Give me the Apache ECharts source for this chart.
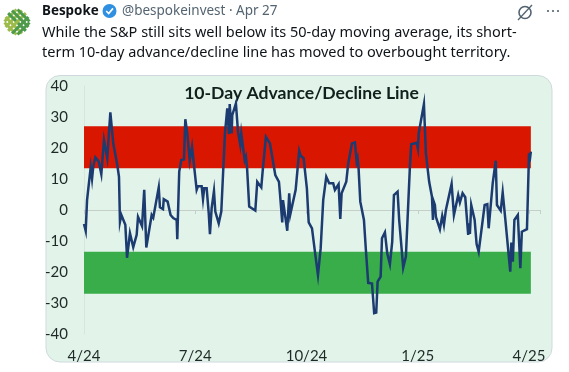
<!DOCTYPE html>
<html><head><meta charset="utf-8">
<style>html,body{margin:0;padding:0;background:#fff}#c{width:569px;height:372px}</style>
<script src="https://cdn.jsdelivr.net/npm/echarts@6/dist/echarts.min.js"></script>
</head><body><div id="c"></div>
<script>
const chartTitle = '10-Day Advance/Decline Line';
const authorName = 'Bespoke';
const authorHandle = '@bespokeinvest · Apr 27';
const tweetLines = ['While the S&P still sits well below its 50-day moving average, its short-','term 10-day advance/decline line has moved to overbought territory.'];
const tickLabels = ['4/24','7/24','10/24','1/25','4/25'];
const overboughtBand = [13.5, 27];
const oversoldBand = [-27, -13.5];
const bandEndDay = 366.5;
const days = [0,1.4,2.5,5.5,6.6,7.6,9.3,12.1,14.2,16.4,19.1,21.6,24,27.3,28.7,29.5,30.6,33.9,35.3,36.9,37.7,40.4,43.2,44.3,47.6,49.4,51.1,55.5,56.8,61.3,62.3,64.8,65.4,68.6,71,73.2,76,76.5,78.1,79.8,82,83.1,84.7,86.7,88.6,90.2,92.4,93.5,96.5,97.6,98.6,100.6,102.3,103.3,104.7,106.6,107.7,110.5,112.6,115.6,117.5,118.9,119.5,121.1,121.6,124.6,126.3,128.2,129,131.8,132.8,133.7,135.5,140.5,142.1,145.4,146.5,147.6,149.2,152.5,156.9,159.9,160.7,161.5,162.6,163.2,166.7,168.3,169.2,173.6,176.5,177.7,180.1,182.8,183.2,184.3,187,189.4,191.9,194.1,196.2,197.4,198.7,201.1,204.4,205.8,208.8,210.2,211.3,215.1,216.7,219.8,222.2,223.6,224.4,225.2,226.6,229.6,231.2,233.1,236.2,238,239.7,240.8,243.3,244.4,246.8,248.7,250.9,252.8,254.2,257.2,258.5,259.4,261.8,264,267.3,268.4,272.8,273.9,274.5,275.8,278.8,280.4,283.1,285.4,286.2,286.4,287.8,288.6,291.9,293.8,295.2,296.8,301.5,303.4,306.9,308.3,310.5,312.7,315.1,315.7,316.5,317.6,320.4,322,323.7,328.6,330.8,331.9,335.2,337.7,338.7,341.8,343.4,345.6,349.6,350.5,351.7,353,355.8,357.9,359.1,363.3,365,365.5,366.5];
const adLine = [-4.5,-6.7,3.2,13.8,10.1,14,17,15.6,11.6,22.6,16.7,31.5,21.5,14.5,10.7,-3.8,-1.6,-4.8,-15.4,-15.4,-7.5,-12,-8,-2.2,-5.2,6.5,-12.1,-1.6,-2.5,7.3,0.9,0.3,3.5,2.7,-1.6,-2.6,-3.2,-9.4,12.4,16.1,16.3,29.3,24.7,15.9,20.4,20.2,6.5,7.7,7.7,3.5,7,7,-1,-7.8,0.6,6.1,-0.5,-4.3,-0.5,24.7,32.8,24.5,34.2,24.7,30.6,34.4,25.3,21,24.7,16.1,17.2,13.8,1.1,-0.2,9.1,7.3,12.4,12.4,23.6,21.5,11.3,9.1,5.4,5.4,-4,3.2,-6.7,5.4,-1.4,6.5,19.1,17.5,16.7,7,4,-4,-5.9,-13.4,-21,-12.4,3.2,3.8,10.7,8.6,8.6,6.5,8.3,-2.9,5.4,9.1,15,21.5,21.8,15.6,16.7,13.4,2.7,-3.2,-12.9,-23.5,-23.7,-33.3,-33.1,-23.1,-21.5,-9.1,-7.2,-14,-17.5,-10.2,4.8,5.9,-3.2,-3,-18.6,-15,14,21.2,21.7,19.7,24.7,25,34.2,18.3,9.1,4.3,-3.2,3.2,1.6,-2.2,-6.2,-1.9,-4.8,0,8.4,-1.6,4.8,2.4,5.4,4.1,-8,-4.3,-7.7,1.6,-3.2,-11,-13.5,1.6,1.9,-5.9,8.6,15.9,1.6,-0.2,5.7,-3.2,-19.9,-10.5,-16.7,-3.2,-1.6,-18.8,-7,-6.2,18.3,15.6,18.8];

const body = '"Noto Sans","Open Sans",sans-serif';
const chartFont = 'Lato,"Open Sans",sans-serif';
const green = ['#9dbb4a','#4d9a4b'];
const logoBars = [];
const LR = 12.5;
for (let i = -2; i <= 2; i++) {
  const half = Math.sqrt(LR*LR-(i*4.6)*(i*4.6));
  logoBars.push({type:'rect',x:17,y:22,rotation:Math.PI/4,shape:{x:i*4.6-1.5,y:-half,width:3,height:half*2},style:{fill:green[i<0?0:1]}});
  logoBars.push({type:'rect',x:17,y:22,rotation:Math.PI/4,shape:{x:-half,y:i*4.6-1.5,width:half*2,height:3},style:{fill:green[i>0?1:0]}});
}
const chart = echarts.init(document.getElementById('c'), null, {renderer:'canvas'});
chart.setOption({
  animation:false,
  backgroundColor:'#fff',
  textStyle:{fontFamily:chartFont},
  graphic:[
    {type:'rect',z:-10,silent:true,shape:{x:46,y:75.5,width:506,height:286.5,r:14},style:{fill:'#e2f4e9',stroke:'#cfd9de',lineWidth:1}},
    ...logoBars,
    {type:'circle',shape:{cx:109.5,cy:11,r:7},style:{fill:'#2f8fe0'}},
    {type:'polyline',shape:{points:[[106.2,11],[108.7,13.5],[113,8.4]]},style:{fill:'none',stroke:'#fff',lineWidth:1.7}},
    {type:'text',x:42,y:11,style:{text:authorName,font:'bold 13.4px '+body,fill:'#0f1419',verticalAlign:'middle'}},
    {type:'text',x:122,y:11,style:{text:authorHandle,font:'13.5px '+body,fill:'#536471',verticalAlign:'middle'}},
    {type:'text',x:42,y:33,style:{text:tweetLines[0],font:'14.5px '+body,fill:'#0f1419',verticalAlign:'middle'}},
    {type:'text',x:42,y:53,style:{text:tweetLines[1],font:'14.5px '+body,fill:'#0f1419',verticalAlign:'middle'}},
    {type:'circle',shape:{cx:525,cy:12.5,r:6},style:{fill:'none',stroke:'#536471',lineWidth:1.6}},
    {type:'line',shape:{x1:518,y1:20,x2:532,y2:5},style:{stroke:'#536471',lineWidth:1.3}},
    {type:'circle',shape:{cx:548,cy:11,r:1.1},style:{fill:'#536471'}},
    {type:'circle',shape:{cx:553,cy:11,r:1.1},style:{fill:'#536471'}},
    {type:'circle',shape:{cx:558,cy:11,r:1.1},style:{fill:'#536471'}},
    {type:'text',x:301.5,y:93,style:{text:chartTitle,font:'bold 17.6px '+chartFont,fill:'#10201c',align:'center',verticalAlign:'middle'}}
  ],
  grid:{left:84,right:29,top:86,bottom:38},
  xAxis:[
    {type:'value',min:0,max:374,interval:91.25,splitLine:{show:false},
     axisLine:{onZero:true,lineStyle:{color:'#c5cfca'}},axisTick:{show:true,length:4,lineStyle:{color:'#c5cfca'}},axisLabel:{show:false}},
    {type:'value',position:'bottom',min:0,max:374,interval:91.25,splitLine:{show:false},axisLine:{show:false,onZero:false},axisTick:{show:false},
     axisLabel:{show:true,margin:15,fontSize:15,color:'#1f2a28',hideOverlap:false,showMaxLabel:true,
       formatter:(v)=>{const i=Math.round(v/91.25);return Math.abs(v-i*91.25)<0.01?(tickLabels[i]||''):'';}}}
  ],
  yAxis:{type:'value',min:-40,max:40,interval:10,splitLine:{show:false},
    axisLine:{show:true,onZero:false,lineStyle:{color:'#d5e6dc'}},axisTick:{show:false},
    axisLabel:{margin:16,fontSize:15,color:'#1f2a28'}},
  series:[
    {type:'line',xAxisIndex:1,data:[],silent:true},
    {type:'line',xAxisIndex:0,data:days.map((d,i)=>[d,adLine[i]]),showSymbol:false,symbol:'none',
     lineStyle:{color:'#1c3b70',width:2.5,join:'miter'},
     markArea:{silent:true,z:1,data:[
       [{xAxis:0,yAxis:overboughtBand[0],itemStyle:{color:'#d91600',opacity:1}},{xAxis:bandEndDay,yAxis:overboughtBand[1]}],
       [{xAxis:0,yAxis:oversoldBand[0],itemStyle:{color:'#38ad4a',opacity:1}},{xAxis:bandEndDay,yAxis:oversoldBand[1]}]
     ]}}
  ]
});
</script></body></html>
